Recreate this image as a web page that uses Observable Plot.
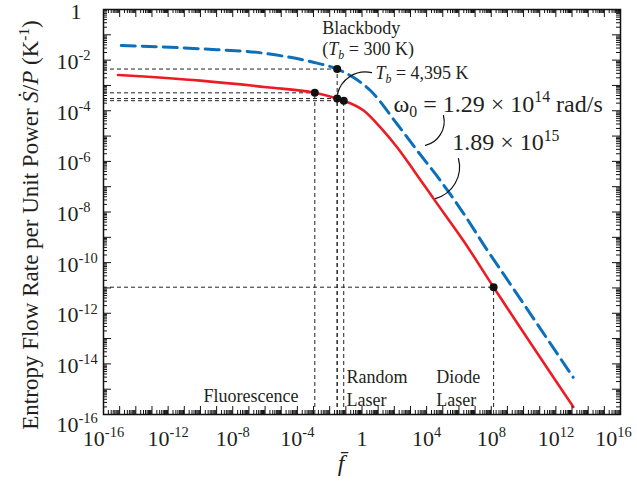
<!DOCTYPE html>
<html><head><meta charset="utf-8">
<script src="https://cdn.jsdelivr.net/npm/d3@7"></script>
<script src="https://cdn.jsdelivr.net/npm/@observablehq/plot@0.6"></script>
<style>html,body{margin:0;padding:0;background:#fff;} #chart svg{display:block;}</style>
</head><body><div id="chart"></div>
<script>
// ---- data ----
const redF  = [7.9e-16, 1e-10, 1.3e-6, 1.2e-3, 2.9e-2, 7.4e-2, 1.26, 13.8, 148, 1.6e3, 2.75e4, 2e6, 1.4e8, 1.2e13];
const redS  = [2.6e-3, 1.55e-3, 8.5e-4, 5.1e-4, 3.03e-4, 2.5e-4, 1.02e-4, 2.2e-5, 3.6e-6, 4.4e-7, 3.3e-8, 7e-10, 1.07e-11, 2.0e-16];
const blueF = [1.26e-15, 1e-10, 1.35e-6, 1.66e-3, 1.8e-2, 0.32, 3.3, 148, 2570, 7.1e4, 2.0e6, 5.5e7, 1.8e8, 1.17e13];
const blueS = [3.8e-2, 2.8e-2, 1.8e-2, 7.6e-3, 5.0e-3, 2.0e-3, 6.3e-4, 3.0e-5, 2.7e-6, 1.74e-7, 8.5e-9, 3.2e-10, 1.05e-10, 2.95e-15];
const markerNames = ["Blackbody 300 K", "Fluorescence", "Tb 4,395 K", "Random Laser", "Diode Laser"];
const markerF = [2.9e-2, 1.2e-3, 2.9e-2, 7.4e-2, 1.4e8];
const markerS = [4.44e-3, 5.1e-4, 3.03e-4, 2.5e-4, 1.07e-11];
const xTicks = [1e-16, 1e-12, 1e-8, 1e-4, 1, 1e4, 1e8, 1e12, 1e16];
const xTickLabels = ["10<sup>-16</sup>", "10<sup>-12</sup>", "10<sup>-8</sup>", "10<sup>-4</sup>", "1", "10<sup>4</sup>", "10<sup>8</sup>", "10<sup>12</sup>", "10<sup>16</sup>"];
const yTicks = [1, 1e-2, 1e-4, 1e-6, 1e-8, 1e-10, 1e-12, 1e-14, 1e-16];
const yTickLabels = ["1", "10<sup>-2</sup>", "10<sup>-4</sup>", "10<sup>-6</sup>", "10<sup>-8</sup>", "10<sup>-10</sup>", "10<sup>-12</sup>", "10<sup>-14</sup>", "10<sup>-16</sup>"];
const xTitle = "f\u0304";
const yTitle = "Entropy Flow Rate per Unit Power <i>\u1E60</i>/<i>P</i> (K<sup>-1</sup>)";

// ---- derived tables ----
const red = redF.map((f, i) => ({f, s: redS[i]}));
const blue = blueF.map((f, i) => ({f, s: blueS[i]}));
const markers = markerF.map((f, i) => ({name: markerNames[i], f, s: markerS[i]}));
const xLab = new Map(xTicks.map((t, i) => [t, xTickLabels[i]]));
const yLab = new Map(yTicks.map((t, i) => [t, yTickLabels[i]]));
const xMajor = [], xMinor = [], yMajor = [], yMinor = [];
for (let e = -16; e <= 16; e++) { xMajor.push(+("1e" + e)); if (e < 16) for (let k = 2; k <= 9; k++) xMinor.push(+(k + "e" + e)); }
for (let e = -16; e <= 0; e++) { yMajor.push(+("1e" + e)); if (e < 0) for (let k = 2; k <= 9; k++) yMinor.push(+(k + "e" + e)); }

// annotations (data coordinates)
const notes = [
  {f: 3.5e-3, s: 0.112, t: "Blackbody", size: 18},
  {f: 3.5e-3, s: 0.0166, t: "(<i>T<sub>b</sub></i> = 300 K)", size: 18},
  {f: 6.8, s: 1.87e-3, t: "<i>T<sub>b</sub></i> = 4,395 K", size: 18},
  {f: 89, s: 9.3e-5, t: "\u03C9<sub>0</sub> = 1.29 \u00D7 10<sup>14</sup> rad/s", size: 24},
  {f: 3.8e5, s: 2.7e-6, t: "1.89 \u00D7 10<sup>15</sup>", size: 24},
  {f: 1.55e-10, s: 3.1e-16, t: "Fluorescence", size: 18},
  {f: 0.11, s: 1.7e-15, t: "Random", size: 18},
  {f: 0.11, s: 2.25e-16, t: "Laser", size: 18},
  {f: 3.9e4, s: 1.7e-15, t: "Diode", size: 18},
  {f: 3.9e4, s: 2.25e-16, t: "Laser", size: 18}
];
const leadersA = [
  {f1: 1.1e5, s1: 6.5e-5, f2: 8.5e3, s2: 4.3e-6},
  {f1: 9.3e5, s1: 1.3e-6, f2: 3.5e4, s2: 3.4e-8}
];
const leadersB = [
  {f1: 3.9, s1: 3.2e-3, f2: 3.0e-2, s2: 4.4e-4}
];

const W = 637, H = 482, ML = 103, MR = 17, MT = 9, MB = 68;
const FW = W - ML - MR, FH = H - MT - MB;
const ink = "#231f20";
const dash = {stroke: "#222", strokeWidth: 1, strokeDasharray: "4,3"};
const lead = {x1: "f1", y1: "s1", x2: "f2", y2: "s2", headLength: 0, stroke: "#111", strokeWidth: 1.2};

const svg = Plot.plot({
  width: W, height: H,
  marginLeft: ML, marginRight: MR, marginTop: MT, marginBottom: MB,
  style: {fontFamily: "'Liberation Serif','Times New Roman',serif", fontSize: "18px", color: ink, background: "#fff"},
  x: {type: "log", domain: [1e-16, 1e16]},
  y: {type: "log", domain: [1e-16, 1]},
  marks: [
    Plot.ruleY(markers, {y: "s", x1: 1e-16, x2: "f", ...dash}),
    Plot.ruleX(markers, {x: "f", y1: 1e-16, y2: "s", ...dash}),
    Plot.line(blue, {x: "f", y: "s", stroke: "#0b6fba", strokeWidth: 3, strokeDasharray: "14,7", curve: "monotone-x"}),
    Plot.line(red, {x: "f", y: "s", stroke: "#ed1c24", strokeWidth: 2.6, curve: "monotone-x"}),
    Plot.dot(markers, {x: "f", y: "s", r: 4, fill: "#111", stroke: "none"}),
    Plot.arrow(leadersA, {...lead, bend: 45}),
    Plot.arrow(leadersB, {...lead, bend: -45}),
    Plot.text(notes, {x: "f", y: "s", text: "t", fontSize: "size", textAnchor: "start", lineAnchor: "bottom", fill: ink}),
    Plot.tickX(xMajor, {x: d => d, insetTop: FH - 8, stroke: "#111"}),
    Plot.tickX(xMajor, {x: d => d, insetBottom: FH - 8, stroke: "#111"}),
    Plot.tickX(xMinor, {x: d => d, insetTop: FH - 4, stroke: "#111"}),
    Plot.tickX(xMinor, {x: d => d, insetBottom: FH - 4, stroke: "#111"}),
    Plot.tickY(yMajor, {y: d => d, insetRight: FW - 8, stroke: "#111"}),
    Plot.tickY(yMajor, {y: d => d, insetLeft: FW - 8, stroke: "#111"}),
    Plot.tickY(yMinor, {y: d => d, insetRight: FW - 4, stroke: "#111"}),
    Plot.tickY(yMinor, {y: d => d, insetLeft: FW - 4, stroke: "#111"}),
    Plot.frame({stroke: "#111", strokeWidth: 1.5}),
    Plot.axisX({ticks: xTicks, tickFormat: d => xLab.get(d), tickSize: 0, tickPadding: 16, fontSize: 22, label: null, fill: ink}),
    Plot.axisY({ticks: yTicks, tickFormat: d => yLab.get(d), tickSize: 0, tickPadding: 25, fontSize: 22, dy: 2, label: null, fill: ink}),
    Plot.text([xTitle], {text: d => d, frameAnchor: "bottom", dx: -21, dy: 56, lineAnchor: "bottom", fontStyle: "italic", fontSize: 24, fill: ink}),
    Plot.text([yTitle], {text: d => d, frameAnchor: "left", dx: -73, dy: 13, rotate: -90, textAnchor: "middle", fontSize: 23, fill: ink})
  ]
});
document.getElementById("chart").appendChild(svg);

// ---- turn simple markup (<i>, <sub>, <sup>) into real SVG tspans ----
const NS = "http://www.w3.org/2000/svg";
function richify(el) {
  const raw = el.textContent;
  if (!/<\/?(i|sub|sup)>/.test(raw)) return false;
  const fs = parseFloat(getComputedStyle(el).fontSize) || 18;
  while (el.firstChild) el.removeChild(el.firstChild);
  let italic = false, mode = "n", cur = 0;
  for (const p of raw.split(/(<\/?(?:i|sub|sup)>)/)) {
    if (!p) continue;
    const m = p.match(/^<(\/?)(i|sub|sup)>$/);
    if (m) { const open = !m[1]; if (m[2] === "i") italic = open; else mode = open ? m[2] : "n"; continue; }
    const t = document.createElementNS(NS, "tspan");
    t.textContent = p;
    if (italic) t.setAttribute("font-style", "italic");
    const target = mode === "sup" ? -0.4 * fs : mode === "sub" ? 0.22 * fs : 0;
    if (mode !== "n") t.setAttribute("font-size", (0.66 * fs).toFixed(1));
    if (target !== cur) { t.setAttribute("dy", (target - cur).toFixed(2)); cur = target; }
    el.appendChild(t);
  }
  return true;
}
const yLabelTexts = new Set(svg.querySelectorAll('g[aria-label="y-axis tick label"] text'));
const xLabelTexts = new Set(svg.querySelectorAll('g[aria-label="x-axis tick label"] text'));
svg.querySelectorAll("text").forEach(el => {
  const raw = el.textContent;
  const done = richify(el);
  let sx = 0, sy = 0;
  if (yLabelTexts.has(el)) {
    if (done) { const ts = el.querySelectorAll("tspan"); sx = ts[ts.length - 1].getComputedTextLength(); }
    else sx = 3;
    if (raw === "10<sup>-16</sup>") sy = 8;
  } else if (xLabelTexts.has(el)) {
    if (raw === "10<sup>16</sup>") sx = -7;
  } else return;
  const tr = el.getAttribute("transform") || "";
  el.setAttribute("transform", (tr + ` translate(${sx.toFixed(1)},${sy})`).trim());
});
</script>
</body></html>
